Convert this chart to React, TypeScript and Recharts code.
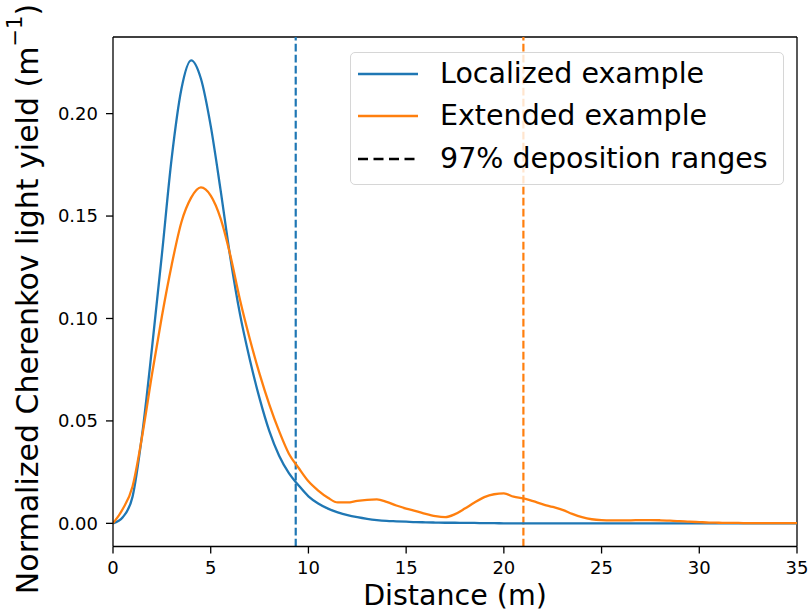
import { LineChart, Line, XAxis, YAxis, ReferenceLine, Legend } from 'recharts'

// distance along the track (m)
const distance = [
  0, 0.5, 1, 1.5, 2, 2.5, 3, 3.5, 4, 4.5, 5, 5.5, 6, 6.5, 7, 7.5, 8, 8.5, 9, 9.5,
  10, 10.5, 11, 11.5, 12, 12.5, 13, 13.5, 14, 14.5, 15, 15.5, 16, 16.5, 17, 17.5, 18, 18.5, 19, 19.5,
  20, 20.5, 21, 21.5, 22, 22.5, 23, 23.5, 24, 24.5, 25, 25.5, 26, 26.5, 27, 27.5, 28, 28.5, 29, 29.5,
  30, 30.5, 31, 31.5, 32, 32.5, 33, 33.5, 34, 34.5, 35,
]

const localized = [
  0, 0.003, 0.013, 0.044, 0.086, 0.131, 0.178, 0.212, 0.226, 0.217, 0.194, 0.163, 0.13, 0.102, 0.08, 0.061, 0.045, 0.033, 0.0245, 0.0185,
  0.0132, 0.0097, 0.0072, 0.0054, 0.004, 0.003, 0.0022, 0.0016, 0.0012, 0.001, 0.0008, 0.0006, 0.0005, 0.0004, 0.0003, 0.0003, 0.0002, 0.0002, 0.0001, 0.0001,
  0, 0, 0, 0, 0, 0, 0, 0, 0, 0, 0, 0, 0, 0, 0, 0, 0, 0, 0, 0,
  0, 0, 0, 0, 0, 0, 0, 0, 0, 0, 0,
]

const extended = [
  0, 0.007, 0.018, 0.043, 0.073, 0.101, 0.126, 0.147, 0.159, 0.164, 0.16, 0.149, 0.131, 0.109, 0.09, 0.073, 0.058, 0.045, 0.034, 0.027,
  0.0205, 0.016, 0.0125, 0.0102, 0.0102, 0.011, 0.0115, 0.0117, 0.0105, 0.0087, 0.0072, 0.006, 0.0046, 0.0035, 0.003, 0.0045, 0.0072, 0.0102, 0.0128, 0.0142,
  0.0146, 0.013, 0.0122, 0.0108, 0.0093, 0.008, 0.0066, 0.0046, 0.003, 0.002, 0.0016, 0.0015, 0.0015, 0.0015, 0.0016, 0.0016, 0.0015, 0.0013, 0.0011, 0.0008,
  0.0006, 0.0004, 0.0003, 0.0002, 0.0002, 0.0001, 0.0001, 0.0001, 0.0001, 0.0001, 0.0001,
]

// 97% deposition range for each example (m)
const localizedRange = 9.35
const extendedRange = 21.0

const xTicks = [0, 5, 10, 15, 20, 25, 30, 35]
const yTicks = [0, 0.05, 0.1, 0.15, 0.2]
const xDomain = [0, 35]
const yDomain = [-0.0113, 0.2374]

const BLUE = '#1f77b4'
const ORANGE = '#ff7f0e'
const FONT = 'DejaVu Sans, sans-serif'

const rows = distance.map((d, i) => ({ d, localized: localized[i], extended: extended[i] }))

const legendItems = [
  { label: 'Localized example', color: BLUE, dash: undefined },
  { label: 'Extended example', color: ORANGE, dash: undefined },
  { label: '97% deposition ranges', color: '#000', dash: '10 5.5' },
]

function LegendBox() {
  return (
    <div
      style={{
        width: 432,
        height: 131,
        background: 'rgba(255,255,255,0.8)',
        border: '1px solid #d6d6d6',
        borderRadius: 5,
        fontFamily: FONT,
        fontSize: 28.5,
        color: '#000',
        boxSizing: 'content-box',
      }}
    >
      {legendItems.map((item, i) => (
        <div key={item.label} style={{ position: 'absolute', left: 0, top: 21.5 + i * 42.5, height: 0 }}>
          <svg width={70} height={10} style={{ position: 'absolute', left: 7, top: -5 }}>
            <line x1={1} y1={5} x2={61} y2={5} stroke={item.color} strokeWidth={2.3} strokeDasharray={item.dash} />
          </svg>
          <span style={{ position: 'absolute', left: 90, top: -17, lineHeight: '34px', whiteSpace: 'nowrap' }}>
            {item.label}
          </span>
        </div>
      ))}
    </div>
  )
}

const tickStyle = { fill: '#000', fontSize: 18, fontFamily: FONT }
const spine = { stroke: '#000', strokeWidth: 1.3 }

export default function App() {
  return (
    <div style={{ position: 'absolute', left: 0, top: 0, width: 810, height: 612, background: '#fff' }}>
      <LineChart width={810} height={612} data={rows} margin={{ top: 37, right: 13, bottom: 15, left: 0 }}>
        <XAxis
          dataKey="d"
          type="number"
          domain={xDomain}
          ticks={xTicks}
          allowDataOverflow
          height={50.5}
          tick={tickStyle}
          tickSize={7}
          tickMargin={8}
          axisLine={spine}
          tickLine={spine}
          label={{
            content: () => (
              <text x={455} y={605} textAnchor="middle" fontSize={28.5} fontFamily={FONT} fill="#000">
                Distance (m)
              </text>
            ),
          }}
        />
        <YAxis
          type="number"
          domain={yDomain}
          ticks={yTicks}
          allowDataOverflow
          width={113}
          tick={tickStyle}
          tickSize={7}
          tickMargin={8}
          tickFormatter={(v: number) => v.toFixed(2)}
          axisLine={spine}
          tickLine={spine}
          label={{
            content: () => (
              <text
                x={27}
                y={299}
                transform="rotate(-90 27 299)"
                textAnchor="middle"
                dominantBaseline="central"
                fontSize={30}
                fontFamily={FONT}
                fill="#000"
              >
                Normalized Cherenkov light yield (m
                <tspan fontSize={21} dy={-12}>−1</tspan>
                <tspan dy={12}>)</tspan>
              </text>
            ),
          }}
        />
        {/* top and right frame */}
        <ReferenceLine y={yDomain[1]} {...spine} />
        <ReferenceLine x={xDomain[1]} {...spine} />
        <ReferenceLine x={localizedRange} stroke={BLUE} strokeWidth={2.2} strokeDasharray="7.7 3.3" />
        <ReferenceLine x={extendedRange} stroke={ORANGE} strokeWidth={2.2} strokeDasharray="7.7 3.3" />
        <Line dataKey="localized" type="monotone" stroke={BLUE} strokeWidth={2.3} dot={false} isAnimationActive={false} />
        <Line dataKey="extended" type="monotone" stroke={ORANGE} strokeWidth={2.3} dot={false} isAnimationActive={false} />
        <Legend
          layout="horizontal"
          verticalAlign="middle"
          align="center"
          content={() => <LegendBox />}
          wrapperStyle={{ left: 350, top: 52, width: 434, height: 133 }}
        />
      </LineChart>
    </div>
  )
}
